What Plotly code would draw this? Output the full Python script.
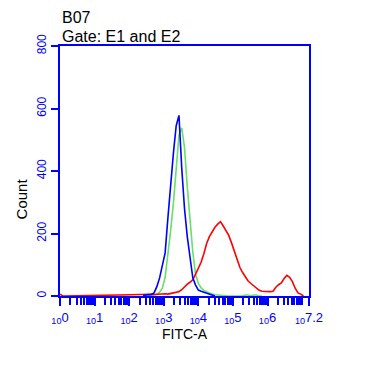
import numpy as np
import plotly.graph_objects as go

# channel positions in decades (log10 of FITC-A), spacing 0.08
blue_x = [2.40, 2.48, 2.56, 2.64, 2.72, 2.80, 2.88, 2.96, 3.04, 3.12, 3.20, 3.28, 3.36, 3.44,
          3.52, 3.60, 3.68, 3.76, 3.84, 3.92, 4.00, 4.08, 4.16, 4.24, 4.32, 4.40, 4.48]
blue_y = [2, 3, 3, 5, 10, 30, 58, 95, 138, 250, 360, 458, 545, 578,
          410, 280, 190, 115, 58, 35, 19, 15, 12, 10, 5, 2, 0]

green_x = [2.56, 2.64, 2.72, 2.80, 2.88, 2.96, 3.04, 3.12, 3.20, 3.28, 3.36, 3.44, 3.52, 3.60,
           3.68, 3.76, 3.84, 3.92, 4.00, 4.08, 4.16, 4.24, 4.32, 4.40, 4.48, 4.56, 4.64, 4.72,
           4.80, 4.88, 5.28, 5.36, 5.44, 5.52, 5.60, 5.68, 5.76, 5.84]
green_y = [0, 2, 3, 5, 12, 25, 60, 130, 210, 298, 420, 515, 538, 475,
           350, 230, 140, 70, 40, 26, 18, 14, 9, 6, 4, 3, 2, 2,
           1, 0, 0, 3, 3, 0, 3, 3, 0, 0]

red_x = [0.00, 0.08, 2.08, 2.16, 2.24, 2.32, 2.40, 2.48, 2.56, 2.64, 2.72, 2.80, 2.88, 2.96,
         3.04, 3.12, 3.20, 3.28, 3.36, 3.44, 3.52, 3.60, 3.68, 3.76, 3.84, 3.92, 4.00, 4.08,
         4.16, 4.24, 4.32, 4.40, 4.48, 4.56, 4.64, 4.72, 4.80, 4.88, 4.96, 5.04, 5.12, 5.20,
         5.28, 5.36, 5.44, 5.52, 5.60, 5.68, 5.76, 5.84, 5.92, 6.00, 6.08, 6.16, 6.24, 6.32,
         6.40, 6.48, 6.56, 6.64, 6.72, 6.80, 6.88, 6.96, 7.04]
red_y = [6, 0, 4, 5, 4, 5, 5, 6, 5, 6, 5, 6, 5, 6,
         7, 6, 7, 10, 12, 14, 20, 30, 38, 44, 52, 70, 90, 108,
         135, 168, 190, 207, 220, 230, 238, 224, 210, 194, 170, 145, 120, 92,
         75, 60, 48, 40, 32, 25, 18, 15, 14, 14, 14, 15, 28, 36,
         42, 56, 66, 60, 46, 25, 10, 6, 0]

major_decades = [0, 1, 2, 3, 4, 5, 6, 7.2]
major_labels = ["0", "1", "2", "3", "4", "5", "6", "7.2"]
y_ticks = [0, 200, 400, 600, 800]

BLUE = "#0000FF"
FONT = "Liberation Sans, Arial, sans-serif"

# log-spaced tick positions on the decade axis
minor_vals = []
for d in range(0, 8):
    for m in range(1, 10):
        v = d + np.log10(m)
        if v <= 7.2:
            minor_vals.append(v)

fig = go.Figure()
for xs, ys, col in [(green_x, green_y, "#66E066"), (red_x, red_y, "#FF0000"), (blue_x, blue_y, BLUE)]:
    fig.add_trace(go.Scatter(x=xs, y=ys, mode="lines", line=dict(color=col, width=1.6),
                             showlegend=False, hoverinfo="skip"))
fig.add_trace(go.Scatter(x=[], y=[], xaxis="x2", yaxis="y", showlegend=False, hoverinfo="skip"))

# page body has an 8px margin, compensate
fig.update_layout(
    width=369, height=384,
    margin=dict(l=52, r=68, t=38, b=96),
    paper_bgcolor="white", plot_bgcolor="white",
    font=dict(family=FONT, color="black"),
    xaxis=dict(
        range=[0, 7.2], showgrid=False, zeroline=False,
        showline=True, linecolor=BLUE, linewidth=2, mirror=True,
        tickmode="array", tickvals=major_decades,
        ticktext=["<sub>10</sub>" + t for t in major_labels],
        ticks="outside", ticklen=8, tickwidth=2, tickcolor=BLUE,
        tickfont=dict(color=BLUE, size=13, family=FONT), tickangle=0,
        title=dict(text="FITC-A", font=dict(size=14, color="black"), standoff=4),
    ),
    xaxis2=dict(
        range=[0, 7.2], overlaying="x", anchor="y", side="bottom",
        showgrid=False, zeroline=False, showline=False, showticklabels=False,
        tickmode="array", tickvals=minor_vals,
        ticks="outside", ticklen=8, tickwidth=2, tickcolor=BLUE,
    ),
    yaxis=dict(
        range=[0, 800], showgrid=False, zeroline=False,
        showline=True, linecolor=BLUE, linewidth=2, mirror=True,
        tickmode="array", tickvals=y_ticks,
        ticks="outside", ticklen=7, tickwidth=2, tickcolor=BLUE,
        tickfont=dict(color=BLUE, size=12), tickangle=-90,
    ),
)
fig.add_annotation(text="Count", xref="paper", yref="paper", x=-0.153, y=0.39,
                   textangle=-90, showarrow=False, font=dict(size=15, color="black"),
                   xanchor="center", yanchor="middle")
fig.add_annotation(text="B07", xref="paper", yref="paper", x=0, y=1.0, yshift=29,
                   xanchor="left", yanchor="middle", showarrow=False, font=dict(size=16, color="black"))
fig.add_annotation(text="Gate: E1 and E2", xref="paper", yref="paper", x=0, y=1.0, yshift=10,
                   xanchor="left", yanchor="middle", showarrow=False, font=dict(size=16, color="black"))

fig.write_html("out.html")
